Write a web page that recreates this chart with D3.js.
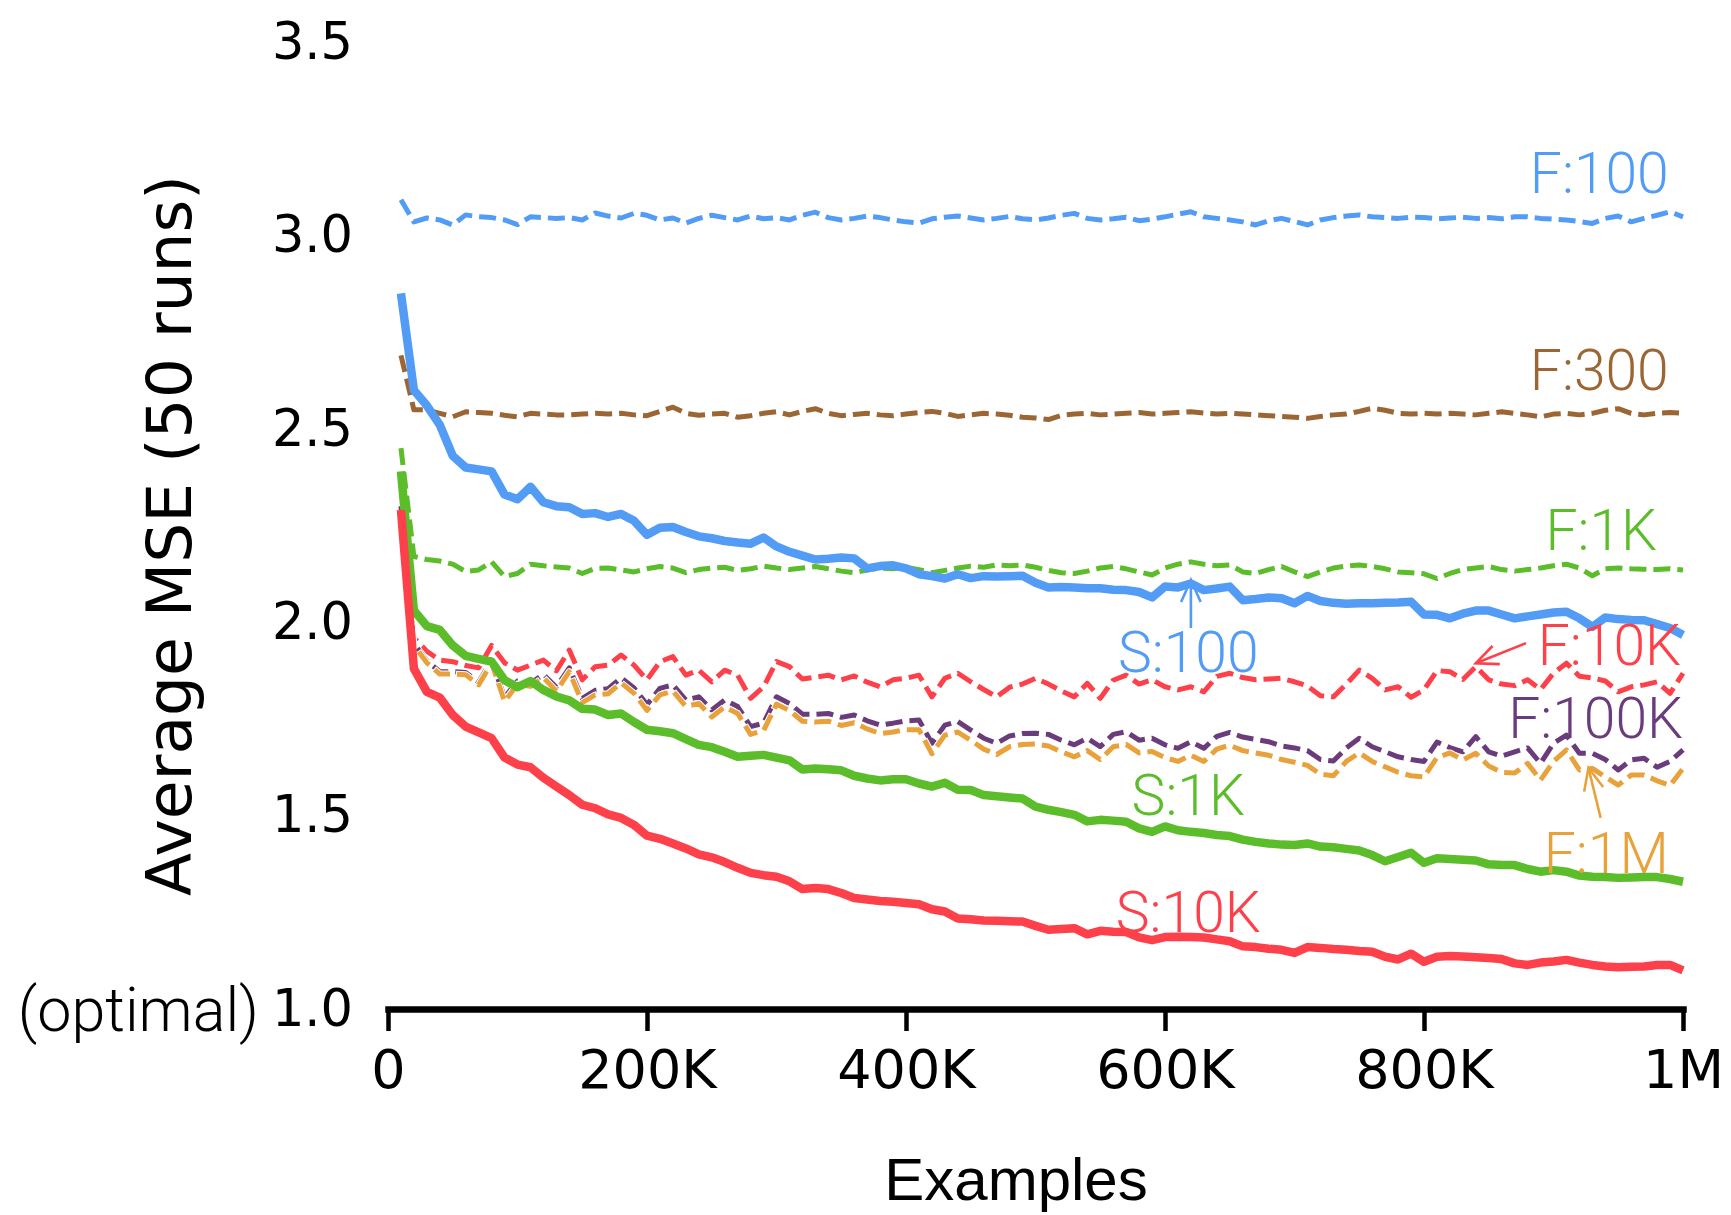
<!DOCTYPE html>
<html>
<head>
<meta charset="utf-8">
<script src="https://cdn.jsdelivr.net/npm/d3@7"></script>
<style>
  body { margin: 0; background: #fff; }
  #chart { width: 1731px; height: 1215px; }
  .tick text { font-family: "DejaVu Sans", sans-serif; fill: #000; }
  .lbl { font-family: Roboto, "Liberation Sans", sans-serif; font-weight: 300; }
</style>
</head>
<body>
<div id="chart"></div>
<script>
// x values, in thousands of examples
const examplesK = [10,20,30,40,50,60,70,80,90,100,110,120,130,140,150,160,170,180,190,200,
  210,220,230,240,250,260,270,280,290,300,310,320,330,340,350,360,370,380,390,400,
  410,420,430,440,450,460,470,480,490,500,510,520,530,540,550,560,570,580,590,600,
  610,620,630,640,650,660,670,680,690,700,710,720,730,740,750,760,770,780,790,800,
  810,820,830,840,850,860,870,880,890,900,910,920,930,940,950,960,970,980,990,1000];

// average MSE
const f100 = [3.092,3.035,3.045,3.040,3.027,3.053,3.048,3.046,3.040,3.028,3.048,3.046,3.044,3.046,3.040,3.058,3.050,3.045,3.057,3.052,
  3.040,3.045,3.032,3.044,3.052,3.046,3.040,3.050,3.043,3.046,3.040,3.052,3.060,3.046,3.040,3.044,3.050,3.046,3.040,3.035,
  3.032,3.043,3.047,3.050,3.045,3.040,3.044,3.049,3.043,3.040,3.045,3.052,3.057,3.044,3.040,3.043,3.047,3.038,3.042,3.048,
  3.055,3.061,3.048,3.044,3.040,3.035,3.027,3.038,3.044,3.036,3.027,3.040,3.046,3.050,3.053,3.048,3.046,3.044,3.047,3.046,
  3.043,3.045,3.047,3.044,3.046,3.043,3.048,3.048,3.044,3.042,3.040,3.036,3.031,3.044,3.050,3.035,3.044,3.052,3.061,3.048];
const f300 = [2.690,2.549,2.549,2.540,2.531,2.544,2.542,2.540,2.535,2.531,2.540,2.538,2.536,2.536,2.538,2.540,2.538,2.540,2.536,2.534,
  2.545,2.556,2.540,2.535,2.538,2.540,2.530,2.534,2.540,2.544,2.536,2.545,2.552,2.540,2.534,2.537,2.540,2.536,2.534,2.538,
  2.542,2.545,2.540,2.532,2.536,2.540,2.538,2.535,2.530,2.528,2.524,2.535,2.538,2.540,2.536,2.538,2.540,2.542,2.538,2.540,
  2.542,2.544,2.541,2.538,2.540,2.538,2.536,2.534,2.532,2.530,2.527,2.532,2.536,2.538,2.545,2.553,2.548,2.540,2.538,2.540,
  2.538,2.540,2.538,2.536,2.540,2.544,2.540,2.536,2.531,2.538,2.540,2.536,2.540,2.548,2.552,2.540,2.536,2.540,2.542,2.540];
const f1k = [2.450,2.170,2.162,2.158,2.150,2.131,2.135,2.156,2.118,2.126,2.150,2.146,2.143,2.140,2.126,2.139,2.140,2.135,2.130,2.138,
  2.144,2.140,2.128,2.136,2.140,2.142,2.134,2.138,2.145,2.140,2.136,2.140,2.144,2.138,2.132,2.128,2.135,2.140,2.138,2.142,
  2.136,2.128,2.134,2.140,2.145,2.142,2.148,2.146,2.148,2.142,2.134,2.128,2.126,2.132,2.140,2.144,2.138,2.130,2.122,2.140,
  2.150,2.156,2.150,2.146,2.148,2.130,2.126,2.136,2.144,2.130,2.118,2.130,2.140,2.145,2.148,2.144,2.138,2.130,2.128,2.125,
  2.113,2.126,2.136,2.140,2.144,2.136,2.132,2.136,2.140,2.146,2.150,2.140,2.120,2.138,2.140,2.138,2.137,2.136,2.138,2.135];
const f10k = [2.300,1.960,1.925,1.902,1.898,1.888,1.882,1.940,1.895,1.876,1.889,1.902,1.874,1.928,1.851,1.885,1.889,1.915,1.889,1.851,
  1.898,1.911,1.863,1.876,1.846,1.876,1.863,1.803,1.833,1.898,1.885,1.853,1.858,1.863,1.851,1.861,1.845,1.833,1.851,1.855,
  1.863,1.807,1.855,1.868,1.846,1.826,1.807,1.832,1.840,1.855,1.840,1.822,1.807,1.842,1.803,1.850,1.863,1.840,1.851,1.833,
  1.825,1.833,1.820,1.860,1.868,1.857,1.851,1.853,1.855,1.846,1.835,1.810,1.807,1.840,1.876,1.855,1.825,1.833,1.806,1.825,
  1.875,1.872,1.852,1.885,1.851,1.840,1.836,1.851,1.826,1.868,1.894,1.860,1.856,1.848,1.820,1.833,1.838,1.846,1.816,1.868];
const f100k = [2.300,1.945,1.900,1.872,1.872,1.870,1.845,1.902,1.805,1.848,1.842,1.865,1.832,1.882,1.803,1.824,1.828,1.856,1.830,1.787,
  1.829,1.838,1.799,1.807,1.773,1.799,1.782,1.730,1.739,1.807,1.790,1.762,1.762,1.764,1.754,1.760,1.745,1.734,1.739,1.745,
  1.747,1.687,1.734,1.743,1.721,1.700,1.687,1.706,1.712,1.713,1.710,1.695,1.683,1.700,1.678,1.710,1.717,1.695,1.700,1.683,
  1.674,1.691,1.674,1.705,1.715,1.703,1.697,1.691,1.680,1.675,1.668,1.645,1.641,1.675,1.700,1.678,1.665,1.652,1.645,1.640,
  1.690,1.676,1.665,1.704,1.665,1.654,1.665,1.675,1.635,1.687,1.708,1.661,1.661,1.645,1.618,1.644,1.648,1.625,1.640,1.670];
const f1m = [2.290,1.940,1.895,1.866,1.866,1.864,1.838,1.895,1.795,1.840,1.834,1.857,1.822,1.872,1.792,1.812,1.815,1.843,1.816,1.772,
  1.812,1.822,1.782,1.790,1.755,1.781,1.764,1.710,1.720,1.788,1.772,1.744,1.742,1.744,1.733,1.740,1.724,1.712,1.716,1.722,
  1.722,1.660,1.708,1.716,1.695,1.672,1.658,1.678,1.684,1.685,1.680,1.665,1.652,1.668,1.645,1.678,1.684,1.662,1.666,1.650,
  1.640,1.656,1.640,1.672,1.682,1.668,1.662,1.656,1.645,1.638,1.630,1.607,1.603,1.640,1.662,1.640,1.626,1.612,1.603,1.600,
  1.650,1.662,1.644,1.661,1.628,1.612,1.610,1.635,1.592,1.640,1.670,1.618,1.622,1.600,1.579,1.605,1.605,1.590,1.578,1.622];
const s100 = [2.850,2.600,2.560,2.510,2.430,2.400,2.395,2.390,2.330,2.318,2.350,2.310,2.300,2.297,2.280,2.282,2.272,2.280,2.262,2.226,
  2.244,2.246,2.233,2.222,2.217,2.210,2.206,2.203,2.219,2.196,2.182,2.172,2.162,2.164,2.167,2.165,2.139,2.145,2.147,2.139,
  2.124,2.119,2.113,2.124,2.114,2.119,2.118,2.119,2.120,2.102,2.090,2.091,2.090,2.088,2.088,2.084,2.083,2.078,2.064,2.092,
  2.090,2.100,2.083,2.087,2.092,2.057,2.060,2.064,2.062,2.049,2.068,2.055,2.050,2.048,2.049,2.049,2.050,2.051,2.053,2.020,
  2.019,2.010,2.022,2.030,2.030,2.020,2.010,2.015,2.020,2.025,2.027,2.010,1.988,2.012,2.008,2.006,2.005,1.995,1.985,1.967];
const s1k = [2.390,2.030,1.990,1.980,1.940,1.913,1.905,1.898,1.850,1.832,1.848,1.825,1.808,1.798,1.776,1.774,1.760,1.764,1.742,1.722,
  1.718,1.713,1.698,1.683,1.677,1.665,1.652,1.655,1.657,1.650,1.643,1.619,1.622,1.620,1.617,1.603,1.596,1.591,1.594,1.594,
  1.583,1.575,1.585,1.567,1.566,1.553,1.550,1.547,1.544,1.523,1.515,1.509,1.502,1.485,1.489,1.487,1.484,1.467,1.458,1.472,
  1.462,1.458,1.455,1.450,1.447,1.438,1.432,1.428,1.425,1.424,1.428,1.420,1.418,1.414,1.410,1.398,1.382,1.393,1.404,1.378,
  1.390,1.388,1.386,1.384,1.374,1.372,1.372,1.362,1.355,1.359,1.355,1.345,1.342,1.341,1.339,1.340,1.341,1.341,1.336,1.329];
const s10k = [2.290,1.880,1.820,1.805,1.760,1.730,1.715,1.700,1.650,1.632,1.625,1.598,1.575,1.553,1.528,1.519,1.503,1.494,1.476,1.448,
  1.440,1.428,1.415,1.400,1.392,1.380,1.365,1.352,1.346,1.342,1.330,1.310,1.313,1.310,1.300,1.287,1.283,1.279,1.277,1.274,
  1.271,1.258,1.252,1.234,1.232,1.229,1.228,1.227,1.226,1.215,1.205,1.207,1.209,1.193,1.202,1.200,1.199,1.185,1.178,1.186,
  1.187,1.186,1.185,1.180,1.175,1.162,1.160,1.156,1.153,1.145,1.160,1.158,1.155,1.153,1.150,1.148,1.135,1.128,1.143,1.122,
  1.135,1.137,1.136,1.134,1.132,1.129,1.118,1.114,1.120,1.123,1.127,1.120,1.114,1.110,1.108,1.109,1.110,1.114,1.114,1.100];

// axis ticks
const xTicks = [0, 200000, 400000, 600000, 800000, 1000000];
const xTickLabels = ["0", "200K", "400K", "600K", "800K", "1M"];
const yTicks = [1.0, 1.5, 2.0, 2.5, 3.0, 3.5];

// colours
const blue = "#529cf5", brown = "#9b6633", green = "#5cbd2b",
      red = "#fd4049", purple = "#6b3c7c", orange = "#e9a23b";

// drawing order: dashed first, solid on top
const series = [
  { name: "F:100",  values: f100,  color: blue,   dashed: true },
  { name: "F:300",  values: f300,  color: brown,  dashed: true },
  { name: "F:1K",   values: f1k,   color: green,  dashed: true },
  { name: "F:10K",  values: f10k,  color: red,    dashed: true },
  { name: "F:100K", values: f100k, color: purple, dashed: true },
  { name: "F:1M",   values: f1m,   color: orange, dashed: true },
  { name: "S:100",  values: s100,  color: blue,   dashed: false },
  { name: "S:1K",   values: s1k,   color: green,  dashed: false },
  { name: "S:10K",  values: s10k,  color: red,    dashed: false }
];

// in-plot labels (data coordinates)
const labels = [
  { text: "F:100",  x: 989000,  y: 3.110, color: blue,   anchor: "end" },
  { text: "F:300",  x: 989000,  y: 2.600, color: brown,  anchor: "end" },
  { text: "F:1K",   x: 980000,  y: 2.187, color: green,  anchor: "end" },
  { text: "S:100",  x: 618000,  y: 1.871, color: blue,   anchor: "middle" },
  { text: "F:10K",  x: 998500,  y: 1.889, color: red,    anchor: "end" },
  { text: "F:100K", x: 1000000, y: 1.700, color: purple, anchor: "end" },
  { text: "S:1K",   x: 618000,  y: 1.502, color: green,  anchor: "middle" },
  { text: "F:1M",   x: 989000,  y: 1.352, color: orange, anchor: "end" },
  { text: "S:10K",  x: 618000,  y: 1.199, color: red,    anchor: "middle" }
];

// annotation arrows: tail -> head
const arrows = [
  { from: [620000, 1.985], to: [620000, 2.109], color: blue },
  { from: [878800, 1.946], to: [840000, 1.894], color: red },
  { from: [936400, 1.494], to: [927000, 1.623], color: orange }
];

const width = 1731, height = 1215;

const x = d3.scaleLinear().domain([0, 1000000]).range([388, 1683]);
const y = d3.scaleLinear().domain([1.0, 3.5]).range([1009, 42]);

const svg = d3.select("#chart")
  .append("svg")
  .attr("width", width)
  .attr("height", height);

// lines
const line = d3.line()
  .x((d, i) => x(examplesK[i] * 1000))
  .y(d => y(d));

const gLines = svg.append("g").attr("id", "lines");

series.forEach(function(s) {
  if (s.dashed) {
    // thin white edge round the dashes
    gLines.append("path")
      .datum(s.values)
      .attr("d", line)
      .attr("fill", "none")
      .attr("stroke", "#fff")
      .attr("stroke-width", 7)
      .attr("stroke-dasharray", "19,5")
      .attr("stroke-dashoffset", 1)
      .attr("stroke-linejoin", "round");
  }
  gLines.append("path")
    .datum(s.values)
    .attr("d", line)
    .attr("fill", "none")
    .attr("stroke", s.color)
    .attr("stroke-width", s.dashed ? 5 : 8.5)
    .attr("stroke-dasharray", s.dashed ? "17,7" : null)
    .attr("stroke-linejoin", "round");
});

// x axis
const xAxis = svg.append("g")
  .attr("transform", `translate(0,${y(1.0)})`)
  .call(d3.axisBottom(x)
    .tickValues(xTicks)
    .tickFormat((d, i) => xTickLabels[i])
    .tickSize(22)
    .tickSizeOuter(0)
    .tickPadding(19));

xAxis.select(".domain")
  .attr("stroke", "#000")
  .attr("stroke-width", 6.5)
  .attr("stroke-linecap", "square");
xAxis.selectAll(".tick line")
  .attr("stroke", "#000")
  .attr("stroke-width", 4.5);
xAxis.selectAll(".tick text")
  .style("font-size", "54px");

// y axis: labels only
const yAxis = svg.append("g")
  .attr("transform", `translate(${x(0)},0)`)
  .call(d3.axisLeft(y)
    .tickValues(yTicks)
    .tickFormat(d3.format(".1f"))
    .tickSize(0)
    .tickPadding(35));

yAxis.select(".domain").remove();
yAxis.selectAll(".tick text")
  .style("font-size", "51px");

svg.append("text")
  .attr("class", "lbl")
  .attr("x", 259)
  .attr("y", y(1.0))
  .attr("dy", "0.36em")
  .attr("text-anchor", "end")
  .style("font-size", "61px")
  .text("(optimal)");

// axis titles
svg.append("text")
  .attr("transform", `translate(191,${(y(1.0) + y(3.5)) / 2 + 10}) rotate(-90)`)
  .attr("text-anchor", "middle")
  .style("font-family", "DejaVu Sans, sans-serif")
  .style("font-size", "63px")
  .text("Average MSE (50 runs)");

svg.append("text")
  .attr("x", 1016)
  .attr("y", 1200)
  .attr("text-anchor", "middle")
  .style("font-family", "Liberation Sans, Arial, sans-serif")
  .style("font-size", "60px")
  .text("Examples");

// series labels
svg.append("g")
  .selectAll("text")
  .data(labels)
  .enter()
  .append("text")
  .attr("class", "lbl")
  .attr("x", d => x(d.x))
  .attr("y", d => y(d.y))
  .attr("text-anchor", d => d.anchor)
  .attr("fill", d => d.color)
  .style("font-size", "57px")
  .text(d => d.text);

// arrows
const gArrows = svg.append("g").attr("id", "arrows");
arrows.forEach(function(a) {
  const x1 = x(a.from[0]), y1 = y(a.from[1]);
  const x2 = x(a.to[0]), y2 = y(a.to[1]);
  const ang = Math.atan2(y2 - y1, x2 - x1);
  const len = 24, spread = 0.42;
  gArrows.append("line")
    .attr("x1", x1).attr("y1", y1)
    .attr("x2", x2).attr("y2", y2)
    .attr("stroke", a.color)
    .attr("stroke-width", 2.6);
  gArrows.append("path")
    .attr("d", `M${x2 - len * Math.cos(ang - spread)},${y2 - len * Math.sin(ang - spread)}`
      + `L${x2},${y2}`
      + `L${x2 - len * Math.cos(ang + spread)},${y2 - len * Math.sin(ang + spread)}`)
    .attr("fill", "none")
    .attr("stroke", a.color)
    .attr("stroke-width", 2.6)
    .attr("stroke-linejoin", "miter");
});
</script>
</body>
</html>
